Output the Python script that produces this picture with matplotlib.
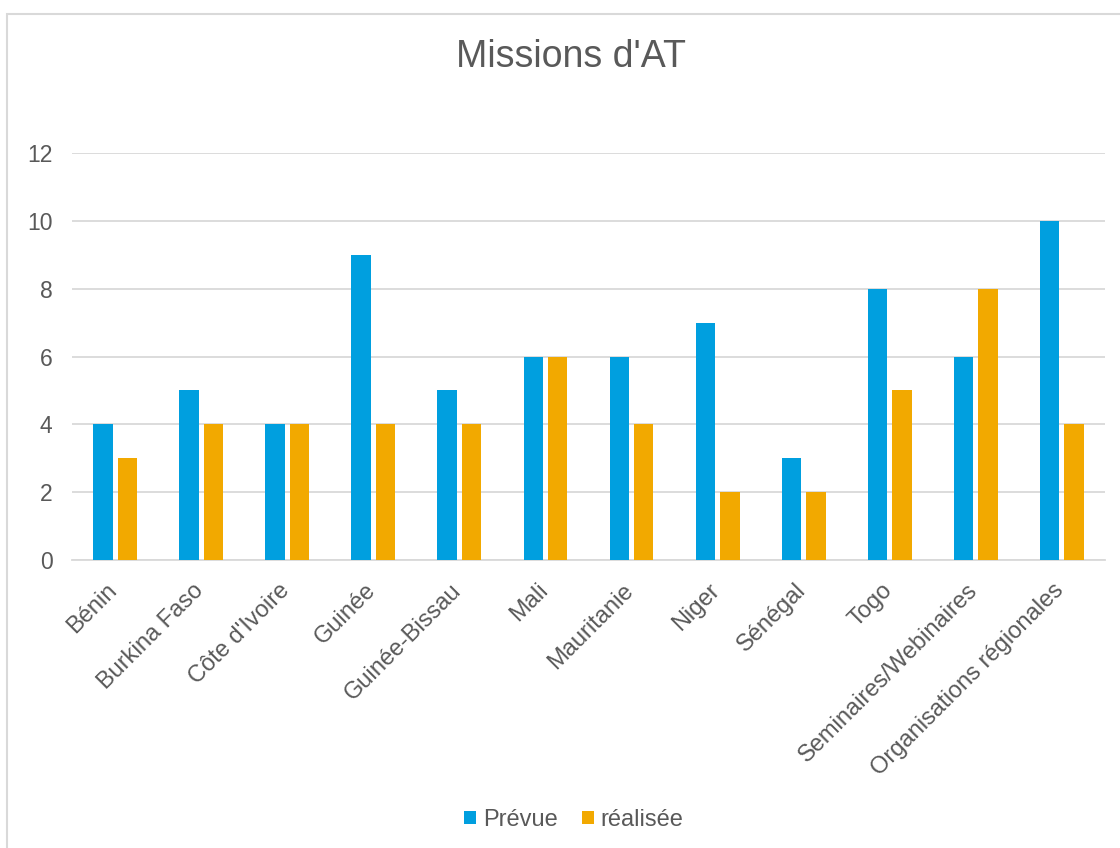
import matplotlib.pyplot as plt
import numpy as np
from matplotlib.patches import Rectangle
from matplotlib.transforms import ScaledTranslation

plt.rcParams['font.family'] = ['Liberation Sans', 'DejaVu Sans']

categories = ["Bénin", "Burkina Faso", "Côte d'Ivoire", "Guinée", "Guinée-Bissau",
              "Mali", "Mauritanie", "Niger", "Sénégal", "Togo",
              "Seminaires/Webinaires", "Organisations régionales"]
prevue = [4, 5, 4, 9, 5, 6, 6, 7, 3, 8, 6, 10]
realisee = [3, 4, 4, 4, 4, 6, 4, 2, 2, 5, 8, 4]
yticks = [0, 2, 4, 6, 8, 10, 12]

blue = "#009FDF"
orange = "#F2A900"
text_col = "#595959"
grid_col = "#D9D9D9"

fig = plt.figure(figsize=(11.2, 8.48), dpi=100)
fig.patch.set_facecolor("white")
# outer chart frame
fig.patches.append(Rectangle((7 / 1120, -0.01), 1.1, 1 - 14 / 848 + 0.01,
                             transform=fig.transFigure, fill=False,
                             edgecolor=grid_col, linewidth=1.5))

ax = fig.add_axes([72 / 1120, 1 - 560 / 848, (1105 - 72) / 1120, (560 - 153) / 848])
x = np.arange(len(categories))
w = 0.225
ax.bar(x - 0.142, prevue, w, color=blue, label="Prévue", zorder=3)
ax.bar(x + 0.142, realisee, w, color=orange, label="réalisée", zorder=3)

ax.set_xlim(-0.5, len(categories) - 0.5)
ax.set_ylim(0, 12)
ax.set_yticks(yticks)
ax.yaxis.grid(True, color=grid_col, linewidth=1.3, zorder=0)
ax.set_axisbelow(True)
for s in ["top", "right", "left"]:
    ax.spines[s].set_visible(False)
ax.spines["bottom"].set_color(grid_col)
ax.spines["bottom"].set_linewidth(1.3)
ax.tick_params(axis="y", length=0, pad=14, labelsize=16.5, labelcolor=text_col)
ax.tick_params(axis="x", length=0, pad=11, labelsize=17, labelcolor=text_col)
ax.set_xticks(x)
ax.set_xticklabels(categories, rotation=45, ha="right", rotation_mode="anchor")
shift = ScaledTranslation(-9 / 100, -4 / 100, fig.dpi_scale_trans)
for lab in ax.get_xticklabels():
    lab.set_transform(lab.get_transform() + shift)

fig.text(571 / 1120, 1 - 57 / 848, "Missions d'AT", ha="center", va="center",
         fontsize=27, color=text_col)

fig.legend(loc="center", bbox_to_anchor=(574 / 1120, 1 - 820 / 848), ncol=2, frameon=False,
           fontsize=17, labelcolor=text_col, handlelength=0.5, handleheight=0.5,
           handletextpad=0.3, columnspacing=1.0)

fig.savefig("out.png", dpi=100, facecolor="white")
